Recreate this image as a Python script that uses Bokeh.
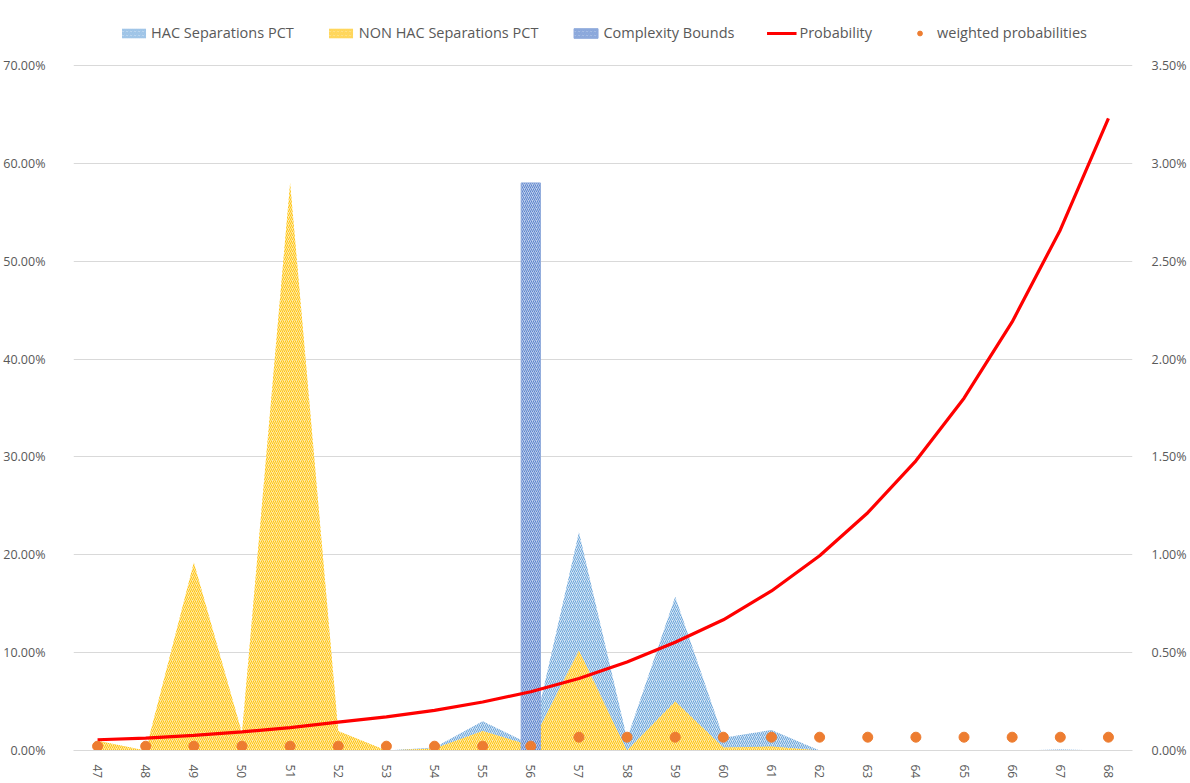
import math
from bokeh.plotting import figure
from bokeh.models import (Range1d, LinearAxis, FixedTicker, NumeralTickFormatter,
                          Legend, LegendItem, ColumnDataSource)
from bokeh.embed import file_html
from bokeh.resources import INLINE

# ---- data ----
categories = list(range(47, 69))
tick_labels = [str(c) for c in categories]
hac_pct = [0.0, 0.0, 0.0, 0.0, 0.0, 0.0, 0.0, 0.003, 0.030, 0.006, 0.223, 0.012,
           0.157, 0.013, 0.021, 0.0, 0.0, 0.0, 0.0, 0.0, 0.001, 0.0]
nonhac_pct = [0.010, 0.0, 0.192, 0.018, 0.580, 0.020, 0.0, 0.002, 0.020, 0.005, 0.102, 0.0,
              0.050, 0.003, 0.004, 0.0, 0.0, 0.0, 0.0, 0.0, 0.0, 0.0]
complexity_cat = [56]
complexity_val = [0.58]
probability = [0.00055, 0.00063, 0.00077, 0.00095, 0.00117, 0.00145, 0.00172, 0.00205,
               0.00248, 0.00300, 0.00368, 0.00452, 0.00553, 0.00668, 0.00815, 0.00995,
               0.01215, 0.01480, 0.01800, 0.02190, 0.02660, 0.03230]
weighted = [0.00022] * 10 + [0.00068] * 12
left_ticks = [i / 10 for i in range(8)]          # 0% .. 70%
right_ticks = [i * 0.005 for i in range(8)]      # 0% .. 3.5%

GRAY = "#595959"
GRID = "#D9D9D9"

# frame extends above the 70% gridline so the legend can sit in it
LEFT_TOP = 0.7562
RIGHT_TOP = 0.035 * LEFT_TOP / 0.7

src = ColumnDataSource(dict(x=categories, hac=hac_pct, non=nonhac_pct,
                            prob=probability, w=weighted, zero=[0.0] * len(categories)))

p = figure(width=1190, height=783, output_backend="svg", toolbar_location=None,
           x_range=Range1d(46.5, 68.5), y_range=Range1d(0, LEFT_TOP))
p.extra_y_ranges = {"right": Range1d(0, RIGHT_TOP)}
p.min_border_left = 73
p.min_border_right = 58
p.min_border_bottom = 33
p.min_border_top = 10
p.outline_line_color = None
p.background_fill_color = "white"
p.border_fill_color = "white"

# areas
r_hac = p.varea(x="x", y1="zero", y2="hac", source=src, fill_color="#D3E4F5",
                fill_alpha=1.0, hatch_pattern="right_diagonal_line", hatch_color="#5B9BD5",
                hatch_scale=4, hatch_weight=1.0, hatch_alpha=0.85)
r_non = p.varea(x="x", y1="zero", y2="non", source=src, fill_color="#FFE9A8",
                fill_alpha=1.0, hatch_pattern="right_diagonal_line", hatch_color="#FFC000",
                hatch_scale=4, hatch_weight=1.0, hatch_alpha=0.9)
# bar
r_bar = p.vbar(x=complexity_cat, top=complexity_val, width=0.4, fill_color="#BCCDEB",
               line_color="#8FAADC", hatch_pattern="right_diagonal_line",
               hatch_color="#4472C4", hatch_scale=4, hatch_weight=1.0, hatch_alpha=0.8)
# line
r_line = p.line(x="x", y="prob", source=src, y_range_name="right",
                line_color="#FF0000", line_width=3.2)
# dots
r_dots = p.scatter(x="x", y="w", source=src, y_range_name="right", size=10,
                   fill_color="#ED7D31", line_color="#ED7D31")

# axes
p.yaxis.ticker = FixedTicker(ticks=left_ticks)
p.yaxis.formatter = NumeralTickFormatter(format="0.00%")
right = LinearAxis(y_range_name="right",
                   ticker=FixedTicker(ticks=right_ticks),
                   formatter=NumeralTickFormatter(format="0.00%"))
p.add_layout(right, "right")
for ax in [p.yaxis[0], right]:
    ax.axis_line_color = None
    ax.major_tick_line_color = None
    ax.minor_tick_line_color = None
    ax.major_label_text_color = GRAY
    ax.major_label_text_font = "Open Sans"
    ax.major_label_text_font_size = "12.5px"
p.yaxis[0].major_label_standoff = 22
right.major_label_standoff = 13

p.xaxis.ticker = FixedTicker(ticks=categories)
p.xaxis.major_label_overrides = {c: l for c, l in zip(categories, tick_labels)}
p.xaxis.major_label_orientation = -math.pi / 2
p.xaxis.axis_line_color = GRID
p.xaxis.major_tick_line_color = None
p.xaxis.minor_tick_line_color = None
p.xaxis.major_label_text_color = GRAY
p.xaxis.major_label_text_font = "Open Sans"
p.xaxis.major_label_text_font_size = "12px"
p.xaxis.major_label_standoff = 8

p.xgrid.grid_line_color = None
p.ygrid.grid_line_color = GRID
p.ygrid.grid_line_width = 1

legend = Legend(items=[
    LegendItem(label="HAC Separations PCT", renderers=[r_hac]),
    LegendItem(label="NON HAC Separations PCT", renderers=[r_non]),
    LegendItem(label="Complexity Bounds", renderers=[r_bar]),
    LegendItem(label="Probability", renderers=[r_line]),
    LegendItem(label="weighted probabilities", renderers=[r_dots]),
], orientation="horizontal", location="top_center")
legend.label_text_font = "Open Sans"
legend.label_text_font_size = "14.5px"
legend.label_text_color = GRAY
legend.border_line_color = None
legend.background_fill_alpha = 0
legend.spacing = 32
legend.glyph_width = 30
legend.glyph_height = 12
legend.label_standoff = 3
legend.padding = 4
legend.margin = 13
p.add_layout(legend, "center")

open("out.html", "w").write(file_html(p, INLINE))
